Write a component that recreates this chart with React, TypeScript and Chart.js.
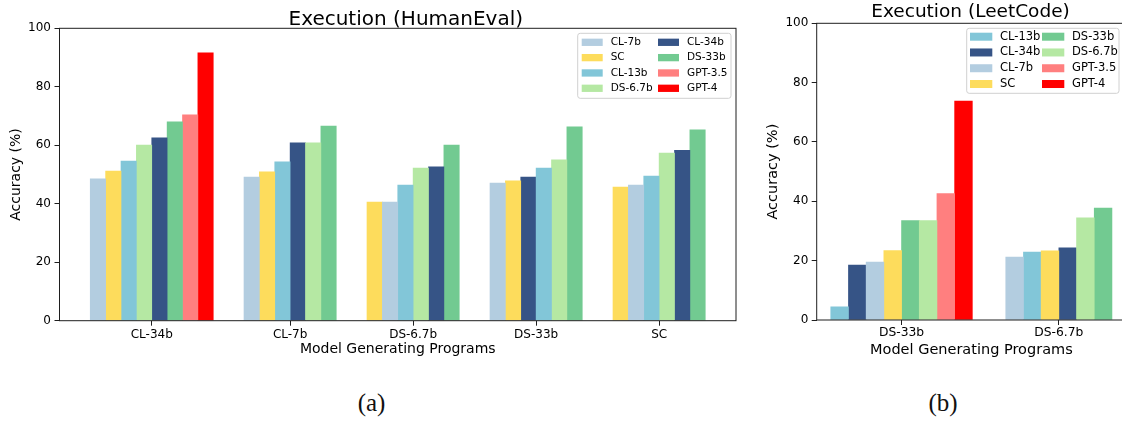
import React, { useEffect, useRef } from "react";
import { Chart, registerables } from "chart.js";

Chart.register(...registerables);

const FONT = "'DejaVu Sans', sans-serif";
const TEXT = "#000000";
const SPINE = "#1e1e1e";

// Models and their colours
const MODELS = ["CL-7b", "SC", "CL-13b", "DS-6.7b", "CL-34b", "DS-33b", "GPT-3.5", "GPT-4"];
const MODEL_COLORS = ["#b3cde0", "#fddc5c", "#82c6d8", "#b5e8a3", "#365486", "#72ca91", "#ff7f7f", "#ff0000"];

// Y ticks (both panels)
const yTicks = [0, 20, 40, 60, 80, 100];

// Panel (a): Execution (HumanEval)
const heGroups = ["CL-34b", "CL-7b", "DS-6.7b", "DS-33b", "SC"];
const heOrder = [
  ["CL-7b", "SC", "CL-13b", "DS-6.7b", "CL-34b", "DS-33b", "GPT-3.5", "GPT-4"],
  ["CL-7b", "SC", "CL-13b", "CL-34b", "DS-6.7b", "DS-33b"],
  ["SC", "CL-7b", "CL-13b", "DS-6.7b", "CL-34b", "DS-33b"],
  ["CL-7b", "SC", "CL-34b", "CL-13b", "DS-6.7b", "DS-33b"],
  ["SC", "CL-7b", "CL-13b", "DS-6.7b", "CL-34b", "DS-33b"],
];
const heValues = [
  [48.5, 51.2, 54.6, 60.1, 62.5, 68.0, 70.4, 91.6],
  [49.1, 50.9, 54.3, 60.8, 60.8, 66.6],
  [40.6, 40.6, 46.4, 52.2, 52.6, 60.1],
  [47.1, 47.8, 49.1, 52.2, 55.0, 66.3],
  [45.7, 46.4, 49.5, 57.3, 58.3, 65.3],
];
const heLegendOrder = ["CL-7b", "SC", "CL-13b", "DS-6.7b", "CL-34b", "DS-33b", "GPT-3.5", "GPT-4"];

// Panel (b): Execution (LeetCode)
const lcGroups = ["DS-33b", "DS-6.7b"];
const lcOrder = [
  ["CL-13b", "CL-34b", "CL-7b", "SC", "DS-33b", "DS-6.7b", "GPT-3.5", "GPT-4"],
  ["CL-7b", "CL-13b", "SC", "CL-34b", "DS-6.7b", "DS-33b"],
];
const lcValues = [
  [4.4, 18.5, 19.5, 23.4, 33.5, 33.5, 42.6, 73.8],
  [21.2, 22.9, 23.3, 24.3, 34.4, 37.7],
];
const lcLegendOrder = ["CL-13b", "CL-34b", "CL-7b", "SC", "DS-33b", "DS-6.7b", "GPT-3.5", "GPT-4"];

// ---- layout helpers (positions derived from group sizes) ----
function cumulativeLayout(order: string[][], gap: number) {
  let start = gap;
  const centers: number[] = [];
  const xs: number[][] = [];
  order.forEach((g) => {
    xs.push(g.map((_, i) => start + i + 0.5));
    centers.push(start + g.length / 2);
    start += g.length + gap;
  });
  return { centers, xs, min: 0, max: start };
}

function centeredLayout(order: string[][], width: number) {
  const centers = order.map((_, gi) => gi);
  const xs = order.map((g, gi) => g.map((_, i) => gi + (i - (g.length - 1) / 2) * width));
  const lo = -((order[0].length) / 2) * width;
  const last = order[order.length - 1];
  const hi = order.length - 1 + (last.length / 2) * width;
  const m = 0.05 * (hi - lo);
  return { centers, xs, min: lo - m, max: hi + m };
}

function buildDatasets(order: string[][], values: number[][], xs: number[][]) {
  return MODELS.map((name, mi) => {
    const data: { x: number; y: number }[] = [];
    order.forEach((g, gi) => {
      const k = g.indexOf(name);
      if (k >= 0) data.push({ x: xs[gi][k], y: values[gi][k] });
    });
    return {
      label: name,
      data,
      backgroundColor: MODEL_COLORS[mi],
      borderWidth: 0,
      grouped: false,
      barPercentage: 1,
      categoryPercentage: 1,
    };
  });
}

type Decor = {
  title: { text: string; x: number; y: number; size: number };
  legend: {
    order: string[];
    left: number; top: number; width: number; height: number;
    swatchX: number[]; swatchW: number; swatchH: number; textDX: number;
    rowY0: number; rowStep: number; rows: number; size: number;
  };
};

function makeDecor(cfg: Decor) {
  return {
    id: "decor",
    afterDatasetsDraw(chart: any) {
      const { ctx, chartArea: a } = chart;
      ctx.save();
      ctx.strokeStyle = SPINE;
      ctx.lineWidth = 1;
      ctx.strokeRect(a.left, a.top, a.right - a.left, a.bottom - a.top);
      ctx.restore();
    },
    afterDraw(chart: any) {
      const ctx = chart.ctx;
      ctx.save();
      const t = cfg.title;
      ctx.font = `${t.size}px ${FONT}`;
      ctx.fillStyle = TEXT;
      ctx.textAlign = "center";
      ctx.textBaseline = "alphabetic";
      ctx.fillText(t.text, t.x, t.y);

      const L = cfg.legend;
      ctx.beginPath();
      const r = 2.5;
      const x0 = L.left, y0 = L.top, x1 = L.left + L.width, y1 = L.top + L.height;
      ctx.moveTo(x0 + r, y0);
      ctx.lineTo(x1 - r, y0);
      ctx.quadraticCurveTo(x1, y0, x1, y0 + r);
      ctx.lineTo(x1, y1 - r);
      ctx.quadraticCurveTo(x1, y1, x1 - r, y1);
      ctx.lineTo(x0 + r, y1);
      ctx.quadraticCurveTo(x0, y1, x0, y1 - r);
      ctx.lineTo(x0, y0 + r);
      ctx.quadraticCurveTo(x0, y0, x0 + r, y0);
      ctx.closePath();
      ctx.fillStyle = "rgba(255,255,255,0.8)";
      ctx.fill();
      ctx.strokeStyle = "#d0d0d0";
      ctx.lineWidth = 1;
      ctx.stroke();

      ctx.font = `${L.size}px ${FONT}`;
      ctx.textAlign = "left";
      ctx.textBaseline = "middle";
      L.order.forEach((name, k) => {
        const col = Math.floor(k / L.rows);
        const row = k % L.rows;
        const ds = chart.data.datasets.find((d: any) => d.label === name);
        const sx = L.swatchX[col];
        const cy = L.rowY0 + row * L.rowStep;
        ctx.fillStyle = ds.backgroundColor;
        ctx.fillRect(sx, cy - L.swatchH / 2, L.swatchW, L.swatchH);
        ctx.fillStyle = TEXT;
        ctx.fillText(name, sx + L.textDX, cy);
      });
      ctx.restore();
    },
  };
}

type PanelOpts = {
  groups: string[];
  layout: { centers: number[]; xs: number[][]; min: number; max: number };
  order: string[][];
  values: number[][];
  padding: { left: number; right: number; top: number; bottom: number };
  yWidth: number;
  xHeight: number;
  xTickSize: number;
  xTickPad: number;
  yTickSize: number;
  yTickPad: number;
  titleSize: number;
  xTitlePad: number;
  yTitlePad: number;
  decor: Decor;
};

function makeConfig(p: PanelOpts): any {
  const datasets = buildDatasets(p.order, p.values, p.layout.xs);
  return {
    type: "bar",
    data: { datasets },
    options: {
      animation: false,
      responsive: false,
      events: [],
      layout: { padding: p.padding },
      scales: {
        x: {
          type: "linear",
          offset: false,
          min: p.layout.min,
          max: p.layout.max,
          afterBuildTicks: (s: any) => {
            s.ticks = p.layout.centers.map((v) => ({ value: v }));
          },
          afterFit: (s: any) => {
            s.height = p.xHeight;
          },
          ticks: {
            callback: (_v: any, i: number) => p.groups[i],
            font: { family: FONT, size: p.xTickSize },
            color: TEXT,
            padding: p.xTickPad,
            maxRotation: 0,
            autoSkip: false,
          },
          grid: { offset: false, drawOnChartArea: false, drawTicks: true, tickLength: 5, color: SPINE, lineWidth: 1 },
          border: { display: false },
          title: {
            display: true,
            text: "Model Generating Programs",
            font: { family: FONT, size: p.titleSize, lineHeight: 1.2 },
            color: TEXT,
            padding: { top: 0, bottom: p.xTitlePad },
          },
        },
        y: {
          type: "linear",
          min: 0,
          max: 100,
          afterBuildTicks: (s: any) => {
            s.ticks = yTicks.map((v) => ({ value: v }));
          },
          afterFit: (s: any) => {
            s.width = p.yWidth;
          },
          ticks: {
            font: { family: FONT, size: p.yTickSize },
            color: TEXT,
            padding: p.yTickPad,
          },
          grid: { drawOnChartArea: false, drawTicks: true, tickLength: 5, color: SPINE, lineWidth: 1 },
          border: { display: false },
          title: {
            display: true,
            text: "Accuracy (%)",
            font: { family: FONT, size: p.titleSize, lineHeight: 1.2 },
            color: TEXT,
            padding: { top: p.yTitlePad, bottom: 0 },
          },
        },
      },
      plugins: {
        legend: { display: false },
        tooltip: { enabled: false },
        title: { display: false },
      },
    },
    plugins: [makeDecor(p.decor)],
  };
}

function ChartCanvas({ left, width, height, config }: { left: number; width: number; height: number; config: () => any }) {
  const ref = useRef<HTMLCanvasElement | null>(null);
  useEffect(() => {
    if (!ref.current) return;
    const chart = new Chart(ref.current, config());
    return () => chart.destroy();
  }, []);
  return (
    <canvas
      ref={ref}
      width={width}
      height={height}
      style={{ position: "absolute", left, top: 0, width, height }}
    />
  );
}

export default function App() {
  const heLayout = cumulativeLayout(heOrder, 2);
  const lcLayout = centeredLayout(lcOrder, 0.9 / 8);

  const leftConfig = () =>
    makeConfig({
      groups: heGroups,
      layout: heLayout,
      order: heOrder,
      values: heValues,
      padding: { left: 0, right: 9, top: 28.3, bottom: 0 },
      yWidth: 59.5,
      xHeight: 44.3,
      xTickSize: 12,
      xTickPad: 2,
      yTickSize: 12,
      yTickPad: 3.5,
      titleSize: 14,
      xTitlePad: 7.4,
      yTitlePad: 8.4,
      decor: {
        title: { text: "Execution (HumanEval)", x: 405.8, y: 25, size: 20 },
        legend: {
          order: heLegendOrder,
          left: 577.7, top: 33.3, width: 153.3, height: 65,
          swatchX: [581.7, 658], swatchW: 21, swatchH: 7.3, textDX: 29,
          rowY0: 42.3, rowStep: 15.33, rows: 4, size: 10.5,
        },
      },
    });

  const rightConfig = () =>
    makeConfig({
      groups: lcGroups,
      layout: lcLayout,
      order: lcOrder,
      values: lcValues,
      padding: { left: 0, right: 0, top: 23.3, bottom: 0 },
      yWidth: 71.7,
      xHeight: 45,
      xTickSize: 12.3,
      xTickPad: 0,
      yTickSize: 12,
      yTickPad: 3.4,
      titleSize: 14.5,
      xTitlePad: 5.8,
      yTitlePad: 19.7,
      decor: {
        title: { text: "Execution (LeetCode)", x: 225.5, y: 16.7, size: 18.5 },
        legend: {
          order: lcLegendOrder,
          left: 221.7, top: 28.3, width: 152.3, height: 65,
          swatchX: [225, 297], swatchW: 22.3, swatchH: 8, textDX: 30,
          rowY0: 36.7, rowStep: 15.77, rows: 4, size: 11.5,
        },
      },
    });

  const caption: React.CSSProperties = {
    position: "absolute",
    top: 389.6,
    width: 100,
    textAlign: "center",
    fontFamily: "'Liberation Serif', serif",
    fontSize: 25,
    lineHeight: "25px",
    color: "#111",
  };

  return (
    <div style={{ position: "absolute", left: 0, top: 0, width: 1122, height: 421, overflow: "hidden", background: "#fff" }}>
      <ChartCanvas left={0} width={745} height={365} config={leftConfig} />
      <ChartCanvas left={745} width={381} height={365} config={rightConfig} />
      <div style={{ ...caption, left: 371.5 - 50 }}>(a)</div>
      <div style={{ ...caption, left: 943 - 50 }}>(b)</div>
    </div>
  );
}
